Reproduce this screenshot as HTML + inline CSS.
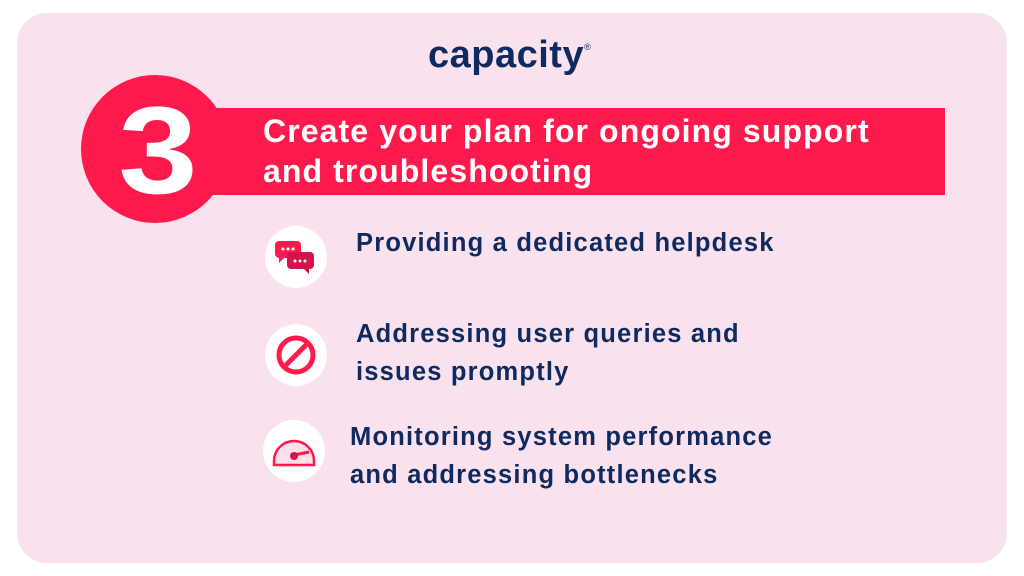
<!DOCTYPE html>
<html><head><style>
body{margin:0;width:1024px;height:576px;background:#fff;position:relative;overflow:hidden;font-family:"Liberation Sans",sans-serif}
.card{position:absolute;left:17px;top:13px;width:990px;height:550px;background:#f9e1ee;border-radius:30px}
.logo{position:absolute;left:428px;top:34px;font-size:38px;font-weight:bold;color:#0e2a5e;letter-spacing:0.5px}
.logo sup{font-size:9px;font-weight:normal;vertical-align:top;position:relative;top:8px}
.banner{position:absolute;left:212px;top:108px;width:733px;height:87px;background:#ff1a4e}
.circle{position:absolute;left:81px;top:75px;width:148px;height:148px;border-radius:50%;background:#ff1a4e}
.num{position:absolute;left:84px;top:76px;width:148px;text-align:center;font-size:124px;font-weight:bold;color:#fff;line-height:150px;transform:scaleX(1.15)}
.title{position:absolute;left:263px;top:111px;color:#fff;font-size:32px;font-weight:bold;line-height:40px;letter-spacing:1.1px}
.ic{position:absolute;width:62px;height:62px;border-radius:50%;background:#fff}
.t{position:absolute;color:#0e2a5e;font-size:25.5px;font-weight:bold;line-height:38px;letter-spacing:1.2px}
</style></head><body>
<div class="card"></div>
<div class="logo">capacity<sup>®</sup></div>
<div class="banner"></div>
<div class="circle"></div>
<div class="num">3</div>
<div class="title">Create your plan for ongoing support<br>and troubleshooting</div>

<div class="ic" style="left:265px;top:226px"><svg width="62" height="62">
<rect x="10" y="15" width="26" height="17" rx="4" fill="#ff1a4e"/><path d="M14 31 L14 37 L20 31Z" fill="#ff1a4e"/>
<rect x="22" y="26" width="27" height="17" rx="4" fill="#d6124a"/><path d="M44 42 L44 48 L38 42Z" fill="#d6124a"/>
<circle cx="18" cy="23" r="1.5" fill="#fff"/><circle cx="23" cy="23" r="1.5" fill="#fff"/><circle cx="28" cy="23" r="1.5" fill="#fff"/>
<circle cx="30" cy="35" r="1.5" fill="#fff"/><circle cx="35" cy="35" r="1.5" fill="#fff"/><circle cx="40" cy="35" r="1.5" fill="#fff"/></svg></div>
<div class="t" style="left:356px;top:224px">Providing a dedicated helpdesk</div>

<div class="ic" style="left:265px;top:324px"><svg width="62" height="62">
<circle cx="31" cy="31" r="17" fill="none" stroke="#ff1a4e" stroke-width="5"/>
<line x1="19" y1="43" x2="43" y2="19" stroke="#ff1a4e" stroke-width="5"/></svg></div>
<div class="t" style="left:356px;top:315px">Addressing user queries and<br>issues promptly</div>

<div class="ic" style="left:263px;top:420px"><svg width="62" height="62">
<path d="M11 41 A20 20 0 0 1 51 41 L51 45 L11 45Z" fill="#fde0e8" stroke="#ff1a4e" stroke-width="2.5"/>
<line x1="31" y1="35" x2="46" y2="32" stroke="#ff1a4e" stroke-width="3"/>
<circle cx="31" cy="36" r="4" fill="#d6124a"/></svg></div>
<div class="t" style="left:350px;top:418px">Monitoring system performance<br>and addressing bottlenecks</div>
</body></html>
